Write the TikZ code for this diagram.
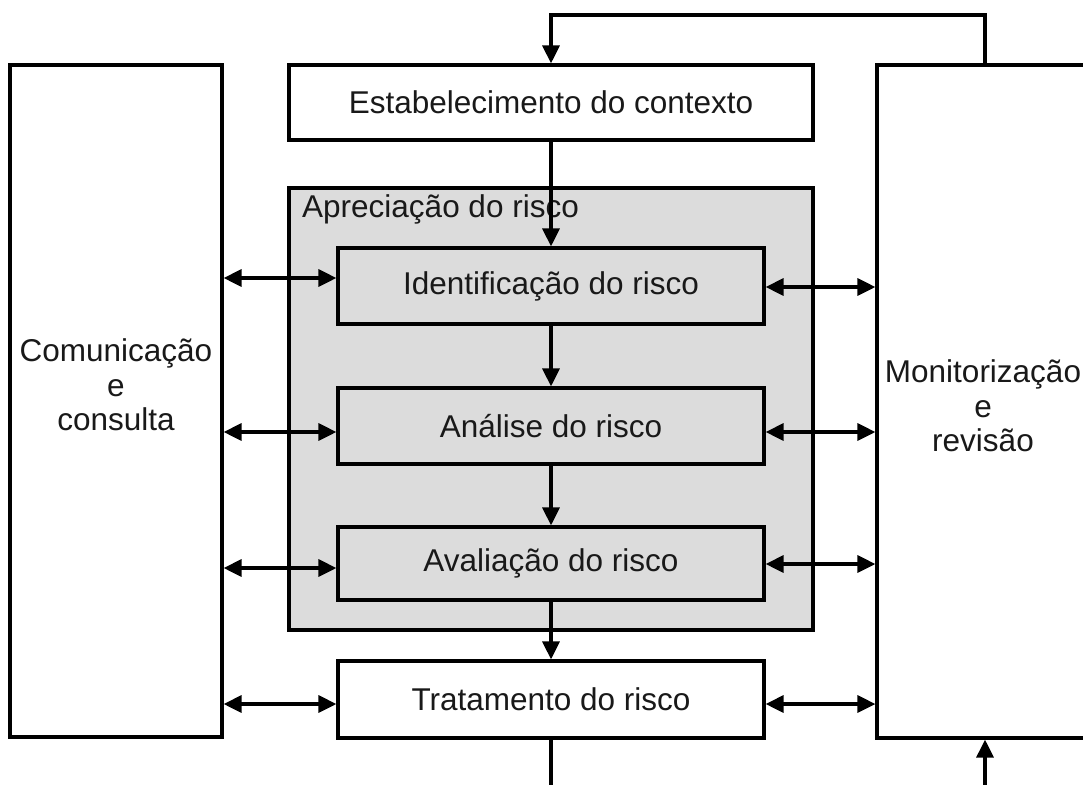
\documentclass[tikz,border=0pt]{standalone}
\usepackage{fontspec}
\setmainfont{Liberation Sans}
\usetikzlibrary{arrows.meta}
\definecolor{apgray}{RGB}{220,220,220}
\begin{document}
\begin{tikzpicture}[x=1pt,y=-1pt,
  txt/.style={font=\fontsize{31.5}{34.5}\selectfont, text=black!90},
  box/.style={draw=black, line width=3.2pt, fill=white, inner sep=0pt, txt},
  grayarea/.style={draw=black, line width=3.2pt, fill=apgray, inner sep=0pt},
  conn/.style={draw=black, line width=3.2pt},
  tip/.style={-{Triangle[length=18pt,width=17pt]}},
  bitip/.style={{Triangle[length=18pt,width=17pt]}-{Triangle[length=18pt,width=17pt]}}
]
\useasboundingbox (0,0) rectangle (1083,784);
\clip (0,0) rectangle (1083,784);

% side boxes
\node[box, minimum width=212pt, minimum height=672pt] (com) at (116,401) {};
\node[txt, align=center, inner sep=0pt] (comtext) at (116,385) {Comunicação\\e\\consulta};
\node[box, minimum width=212pt, minimum height=673pt, align=center] (mon) at (983,401.5) {};
\node[txt, align=center, inner sep=0pt] (montext) at (983,406) {Monitorização\\e\\revisão};

% top context box
\node[box, minimum width=524pt, minimum height=75pt] (ctx) at (551,102.5) {Estabelecimento do contexto};

% gray assessment area
\node[grayarea, minimum width=524pt, minimum height=442pt] (apr) at (551,409) {};
\node[txt, anchor=base west, inner sep=0pt] (aprlabel) at (302,217) {Apreciação do risco};

% inner boxes
\node[box, fill=apgray, minimum width=426pt, minimum height=76pt] (ide) at (551,286) {Identificação do risco};
\node[box, fill=apgray, minimum width=426pt, minimum height=76pt] (ana) at (551,426) {Análise do risco};
\node[box, fill=apgray, minimum width=426pt, minimum height=73pt] (ava) at (551,563.5) {Avaliação do risco};
\node[box, minimum width=426pt, minimum height=77pt] (tra) at (551,699.5) {Tratamento do risco};

% vertical flow
\draw[conn, tip] (ctx.south) -- (ide.north);
\draw[conn, tip] (ide.south) -- (ana.north);
\draw[conn, tip] (ana.south) -- (ava.north);
\draw[conn, tip] (ava.south) -- (tra.north);

% feedback top
\coordinate (mtop) at (985,65);
\draw[conn, tip] (mtop) -- (985,15) -| (ctx.north);

% bottom lines
\coordinate (b1) at (551,790);
\coordinate (b2) at (985,790);
\draw[conn] (tra.south) -- (b1);
\draw[conn, tip] (b2) -- (b2 |- mon.south);

% left bidirectional arrows
\draw[conn, bitip] (com.east |- 0,278) -- (ide.west |- 0,278);
\draw[conn, bitip] (com.east |- 0,432) -- (ana.west |- 0,432);
\draw[conn, bitip] (com.east |- 0,568) -- (ava.west |- 0,568);
\draw[conn, bitip] (com.east |- 0,704) -- (tra.west |- 0,704);

% right bidirectional arrows
\draw[conn, bitip] (ide.east |- 0,287) -- (mon.west |- 0,287);
\draw[conn, bitip] (ana.east |- 0,432) -- (mon.west |- 0,432);
\draw[conn, bitip] (ava.east |- 0,564) -- (mon.west |- 0,564);
\draw[conn, bitip] (tra.east |- 0,704) -- (mon.west |- 0,704);
\end{tikzpicture}
\end{document}
